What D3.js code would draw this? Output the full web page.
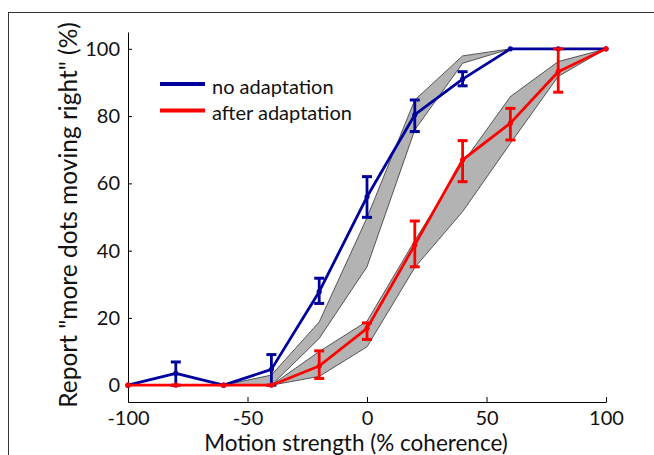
<!DOCTYPE html>
<html>
<head>
<meta charset="utf-8">
<script src="https://cdn.jsdelivr.net/npm/d3@7"></script>
<style>
  body { margin: 0; background: #fff; }
  svg { display: block; font-family: Lato, "Open Sans", sans-serif; }
  .axis path, .axis line { stroke: #000; stroke-width: 1px; }
  .axis text { font-size: 20px; fill: #111; font-family: Lato, sans-serif; }
</style>
</head>
<body>
<svg id="chart" width="654" height="455"></svg>
<script>
// coherence levels (x) and response percentages
var coherence = [-100, -80, -60, -40, -20, 0, 20, 40, 60, 80, 100];

var noAdapt   = [0, 3.5, 0, 4.7, 27.8, 56, 80.4, 91, 100, 100, 100];
var noAdaptLo = [0, 0, 0, 0, 24.3, 49.9, 75.4, 89, 100, 100, 100];
var noAdaptHi = [0, 6.9, 0, 9.1, 31.8, 62, 84.8, 93.2, 100, 100, 100];

var afterAdapt   = [0, 0, 0, 0, 5.7, 16.9, 41.7, 67, 77.9, 93.2, 100];
var afterAdaptLo = [0, 0, 0, 0, 2, 13.6, 35.2, 60.5, 72.9, 87.1, 100];
var afterAdaptHi = [0, 0, 0, 0, 10.2, 18.5, 48.8, 72.7, 82.3, 100, 100];

// gray confidence bands
var band1X  = [-60, -40, -20, 0, 20, 40, 60];
var band1Lo = [0, 0, 13.9, 35.2, 75.9, 95.7, 100];
var band1Hi = [0, 3, 18.8, 49.8, 84.8, 97.9, 100];

var band2X  = [-40, -20, 0, 20, 40, 60, 80, 100];
var band2Lo = [0, 2.6, 11.4, 35, 51.6, 71.9, 91.8, 100];
var band2Hi = [0, 10, 19, 43, 66, 85.8, 96.2, 100];

var xTicks = [-100, -50, 0, 50, 100];
var yTicks = [0, 20, 40, 60, 80, 100];

var seriesNames = ['no adaptation', 'after adaptation'];
var blue = '#00009c', red = '#ff0000';

var svg = d3.select('#chart');

// outer frame
svg.append('rect')
  .attr('x', 8.5).attr('y', 12.5)
  .attr('width', 700).attr('height', 500)
  .attr('fill', 'none')
  .attr('stroke', '#333');

var x = d3.scaleLinear().domain([-100, 100]).range([128, 606]);
var y = d3.scaleLinear().domain([-5, 105]).range([402, 32]);

function zip(xs, ys) {
  return xs.map(function (v, i) { return [v, ys[i]]; });
}

// bands
[[band1X, band1Lo, band1Hi], [band2X, band2Lo, band2Hi]].forEach(function (b) {
  var pts = b[0].map(function (v, i) { return {x: v, lo: b[1][i], hi: b[2][i]}; });
  svg.append('path')
    .datum(pts)
    .attr('d', d3.area()
      .x(function (d) { return x(d.x); })
      .y0(function (d) { return y(d.lo); })
      .y1(function (d) { return y(d.hi); }))
    .attr('fill', '#b3b3b3')
    .attr('stroke', '#333')
    .attr('stroke-width', 0.8);
});

// axes (plain hyphen for negatives, like the original)
var plain = function (d) { return String(d); };

svg.append('g')
  .attr('class', 'axis')
  .attr('transform', 'translate(0,402)')
  .call(d3.axisBottom(x).tickValues(xTicks).tickFormat(plain)
    .tickSizeInner(-5).tickSizeOuter(0).tickPadding(9));

svg.append('g')
  .attr('class', 'axis')
  .attr('transform', 'translate(128,0)')
  .call(d3.axisLeft(y).tickValues(yTicks).tickFormat(plain)
    .tickSizeInner(-4).tickSizeOuter(0).tickPadding(8));

var line = d3.line()
  .x(function (d) { return x(d[0]); })
  .y(function (d) { return y(d[1]); });

function drawSeries(vals, lo, hi, color) {
  var g = svg.append('g');
  g.append('path')
    .datum(zip(coherence, vals))
    .attr('d', line)
    .attr('fill', 'none')
    .attr('stroke', color)
    .attr('stroke-width', 2.8)
    .attr('stroke-linejoin', 'round');

  coherence.forEach(function (c, i) {
    if (hi[i] - lo[i] < 0.5) return;
    var cx = x(c);
    g.append('line')
      .attr('x1', cx).attr('x2', cx)
      .attr('y1', y(lo[i])).attr('y2', y(hi[i]))
      .attr('stroke', color).attr('stroke-width', 2.8);
    [lo[i], hi[i]].forEach(function (v) {
      g.append('line')
        .attr('x1', cx - 5).attr('x2', cx + 5)
        .attr('y1', y(v)).attr('y2', y(v))
        .attr('stroke', color).attr('stroke-width', 3);
    });
  });

  g.selectAll('circle')
    .data(zip(coherence, vals))
    .enter().append('circle')
    .attr('cx', function (d) { return x(d[0]); })
    .attr('cy', function (d) { return y(d[1]); })
    .attr('r', 2.6)
    .attr('fill', color);
}

drawSeries(noAdapt, noAdaptLo, noAdaptHi, blue);
drawSeries(afterAdapt, afterAdaptLo, afterAdaptHi, red);

// legend
var legend = svg.append('g');
[blue, red].forEach(function (c, i) {
  var ly = 84 + i * 26.5;
  legend.append('line')
    .attr('x1', 160).attr('x2', 205)
    .attr('y1', ly).attr('y2', ly)
    .attr('stroke', c).attr('stroke-width', 4);
  legend.append('text')
    .attr('x', 212).attr('y', ly + 9.5)
    .attr('font-size', 20)
    .attr('fill', '#111')
    .text(seriesNames[i]);
});

// axis labels
svg.append('text')
  .attr('x', 356).attr('y', 451)
  .attr('text-anchor', 'middle')
  .attr('font-size', 22.5)
  .attr('fill', '#111')
  .text('Motion strength (% coherence)');

svg.append('text')
  .attr('transform', 'translate(77,215) rotate(-90)')
  .attr('text-anchor', 'middle')
  .attr('font-size', 24.5)
  .attr('fill', '#111')
  .text('Report "more dots moving right" (%)');
</script>
</body>
</html>
